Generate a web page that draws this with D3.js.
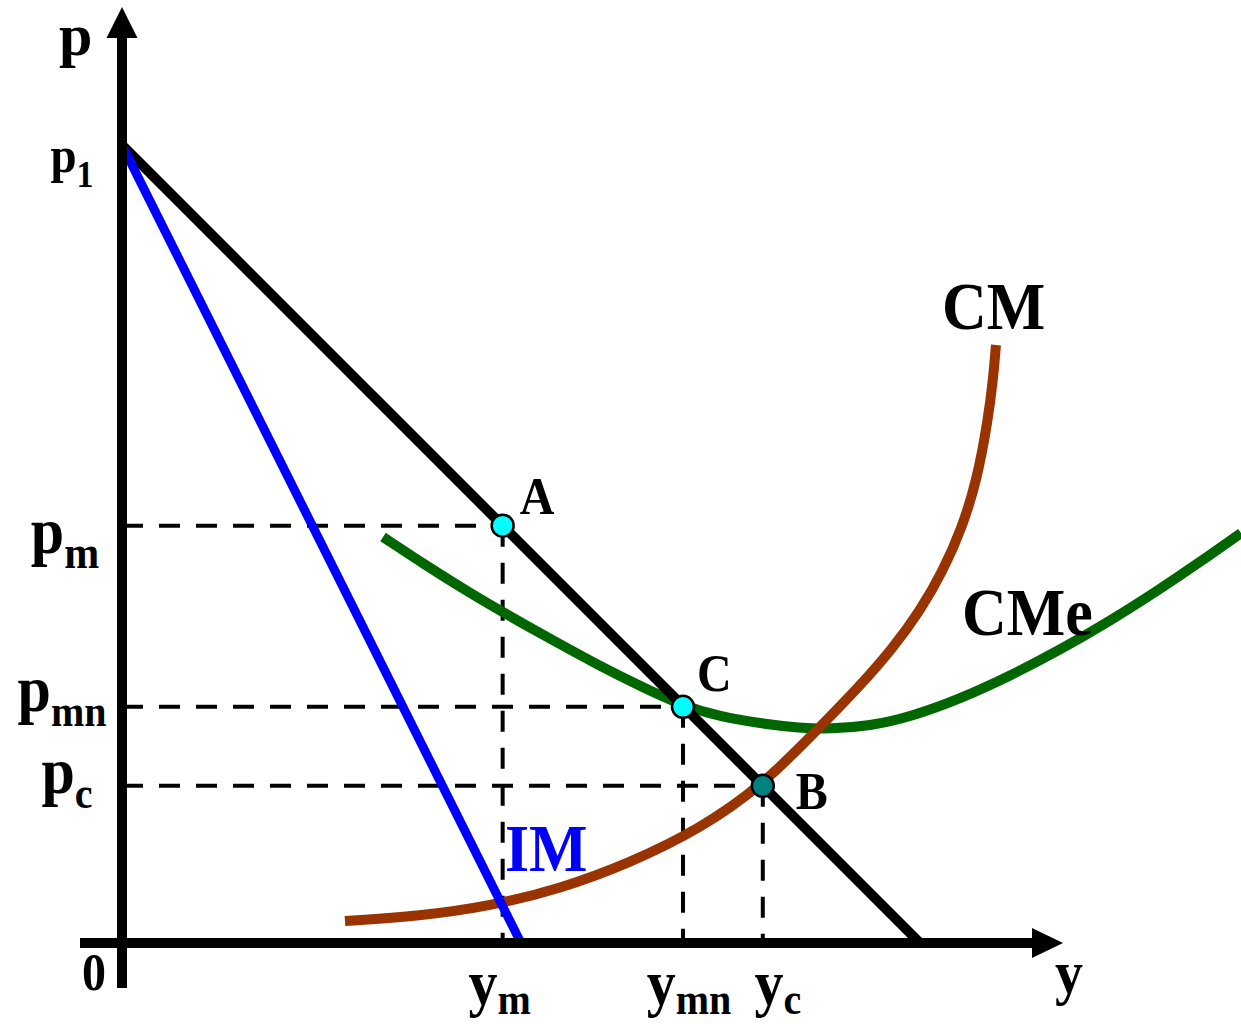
<!DOCTYPE html>
<html>
<head>
<meta charset="utf-8">
<script src="https://cdn.jsdelivr.net/npm/d3@7"></script>
<style>
  body { margin: 0; background: #fff; }
  svg { display: block; }
</style>
</head>
<body>
<div id="chart"></div>
<script>
// dados (y = quantidade, p = preço)
const demandQ = [0, 100];
const demandP = [100, 0];
const imQ = [0, 50];
const imP = [100, 0];
const cmQ = [27.94, 37.34, 46.12, 54.89, 63.66, 72.43, 80.33, 87.47, 92.48, 96.62, 100.0, 102.88, 105.26, 107.14, 108.52, 109.15, 109.52];
const cmP = [2.76, 3.38, 4.64, 6.77, 10.03, 14.29, 19.8, 27.07, 32.21, 36.97, 41.6, 46.62, 52.01, 58.02, 65.54, 70.55, 74.94];
const cmeQ = [32.71, 38.22, 43.61, 49.0, 54.39, 59.9, 64.91, 70.3, 74.94, 79.95, 84.96, 88.72, 93.73, 98.75, 105.01, 111.28, 117.54, 123.81, 130.08, 135.09, 140.23];
const cmeP = [50.88, 47.24, 43.86, 40.73, 37.72, 34.71, 32.21, 29.7, 28.38, 27.51, 26.94, 26.82, 27.19, 28.32, 30.58, 33.46, 36.72, 40.35, 44.36, 47.74, 51.38];
const pointNames = ["A", "C", "B"];
const pointQ = [47.7, 70.3, 80.3];
const pointP = [52.3, 29.6, 19.7];
const priceSubs = ["1", "m", "mn", "c"];
const priceValues = [100, 52.3, 29.6, 19.7];
const qtySubs = ["m", "mn", "c"];
const qtyValues = [47.7, 70.3, 80.3];

// layout
const W = 1241, H = 1024;
const font = "'Liberation Serif', 'Times New Roman', serif";

const x = d3.scaleLinear().domain([0, 100]).range([122, 920]);
const y = d3.scaleLinear().domain([0, 100]).range([943, 145]);

const svg = d3.select("#chart").append("svg")
    .attr("width", W)
    .attr("height", H)
    .attr("viewBox", [0, 0, W, H]);

const line = d3.line().x(d => x(d[0])).y(d => y(d[1]));
const smooth = d3.line().x(d => x(d[0])).y(d => y(d[1])).curve(d3.curveBasis);
const zip = (a, b) => a.map((v, i) => [v, b[i]]);

// linhas tracejadas
const dash = svg.append("g")
    .attr("stroke", "#000")
    .attr("stroke-width", 4)
    .attr("stroke-dasharray", "21,16")
    .attr("fill", "none");

pointQ.forEach((q, i) => {
    dash.append("path").attr("d", line([[0, pointP[i]], [q, pointP[i]]]));
    dash.append("path").attr("d", line([[q, pointP[i]], [q, 0]]));
});

// curvas
svg.append("path")
    .attr("d", smooth(zip(cmeQ, cmeP)))
    .attr("fill", "none").attr("stroke", "#006600").attr("stroke-width", 10);

svg.append("path")
    .attr("d", smooth(zip(cmQ, cmP)))
    .attr("fill", "none").attr("stroke", "#993300").attr("stroke-width", 10);

svg.append("path")
    .attr("d", line(zip(demandQ, demandP)))
    .attr("fill", "none").attr("stroke", "#000").attr("stroke-width", 10);

svg.append("path")
    .attr("d", line(zip(imQ, imP)))
    .attr("fill", "none").attr("stroke", "#0000ff").attr("stroke-width", 9);

// eixos
const x0 = x(0), y0 = y(0);
svg.append("line")
    .attr("x1", x0).attr("x2", x0).attr("y1", 988).attr("y2", 36)
    .attr("stroke", "#000").attr("stroke-width", 10);
svg.append("path")
    .attr("d", `M${x0},7 L${x0 - 15.5},38 L${x0 + 15.5},38 Z`)
    .attr("fill", "#000");

svg.append("line")
    .attr("x1", 80).attr("x2", 1034).attr("y1", y0).attr("y2", y0)
    .attr("stroke", "#000").attr("stroke-width", 10);
svg.append("path")
    .attr("d", `M1063,${y0} L1032,${y0 - 15} L1032,${y0 + 15} Z`)
    .attr("fill", "#000");

// pontos
svg.selectAll("circle.pt")
    .data(pointNames)
    .join("circle")
    .attr("class", "pt")
    .attr("cx", (d, i) => x(pointQ[i]))
    .attr("cy", (d, i) => y(pointP[i]))
    .attr("r", 11)
    .attr("fill", d => d === "B" ? "#008080" : "#00ffff")
    .attr("stroke", "#000")
    .attr("stroke-width", 2.5);

// textos
function label(px, py, main, sub, size, subSize, subDy, anchor, color, sy) {
    const t = svg.append("text")
        .attr("transform", `translate(${px},${py}) scale(1,${sy || 1.1})`)
        .attr("text-anchor", anchor || "start")
        .attr("font-family", font)
        .attr("font-weight", "bold")
        .attr("font-size", size)
        .attr("fill", color || "#000");
    t.append("tspan").text(main);
    if (sub) t.append("tspan").attr("font-size", subSize).attr("dy", subDy).text(sub);
    return t;
}

const pointNudge = { A: [17, -12], C: [14, -16], B: [33, 23] };
pointNames.forEach((n, i) => {
    label(x(pointQ[i]) + pointNudge[n][0], y(pointP[i]) + pointNudge[n][1], n, null, 48);
});

// rótulos do eixo p: [centro x, deslocamento da base, tamanho, tamanho subscrito]
const pLayout = { "1": [72, 27, 47, 34], m: [65, 27, 60, 42], mn: [62, 4, 60, 40], c: [67, 7, 60, 40] };
priceSubs.forEach((s, i) => {
    const L = pLayout[s];
    label(L[0], y(priceValues[i]) + L[1], "p", s, L[2], L[3], 14, "middle");
});

// rótulos do eixo y: deslocamento do centro
const qLayout = { m: -3, mn: 6, c: 15 };
qtySubs.forEach((s, i) => {
    label(x(qtyValues[i]) + qLayout[s], 1004, "y", s, 58, 40, 9, "middle");
});

label(59, 55, "p", null, 60, null, null, "start", null, 1);
label(1055, 993, "y", null, 56);
label(82, 990, "0", null, 48);

label(942, 329, "CM", null, 62);
label(962, 635, "CMe", null, 62);
label(505, 871, "IM", null, 62, null, null, "start", "#0000ff");
</script>
</body>
</html>
